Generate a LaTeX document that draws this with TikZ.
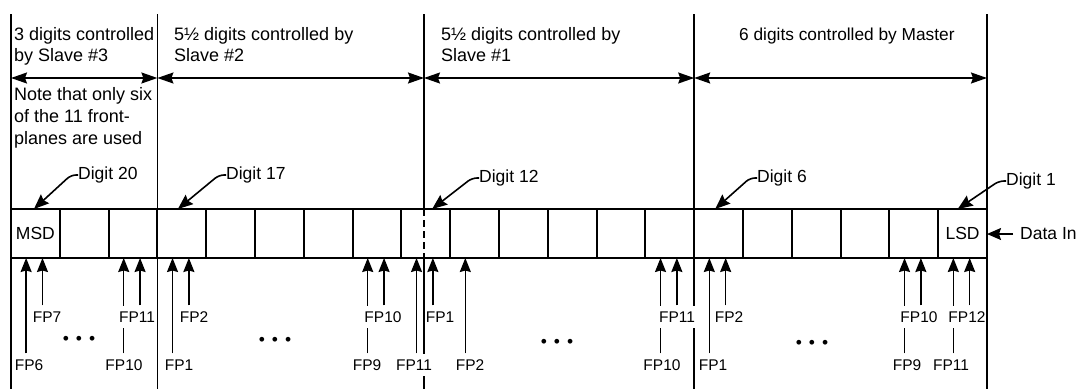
\documentclass[tikz,border=0pt]{standalone}
\usepackage{fontspec}
\setmainfont{Liberation Sans}
\usetikzlibrary{arrows.meta,calc,backgrounds}
\begin{document}
\begin{tikzpicture}[x=1pt,y=-1pt,
  cell/.style={draw,line width=2pt,minimum width=48.8pt,minimum height=49pt,inner sep=0pt,outer sep=0pt,font=\fontsize{17.5}{21}\selectfont},
  divider/.style={line width=1.5pt},
  dim/.style={line width=1.6pt,arrows={Stealth[length=16pt,width=11pt,inset=2pt]-Stealth[length=16pt,width=11pt,inset=2pt]}},
  hdr/.style={anchor=north west,inner sep=0pt,align=left,font=\fontsize{18}{21.5}\selectfont},
  dlab/.style={anchor=west,inner sep=0pt,font=\fontsize{17.5}{21}\selectfont},
  leader/.style={line width=1.6pt,rounded corners=5pt,arrows={-Stealth[length=15pt,width=12pt,inset=2pt]}},
  fplab/.style={fill=white,inner xsep=0pt,inner ysep=6pt,font=\fontsize{15.5}{18}\selectfont},
  fparrow/.style={line width=1.5pt,arrows={-Stealth[length=14pt,width=11pt,inset=1.5pt]}},
  dotsty/.style={inner sep=0pt,font=\fontsize{17.5}{21}\selectfont}
]
\useasboundingbox (0,0) rectangle (1079,389);

% digit cells
\node[cell] (b1) at ({11+48.8*0.5},233.5) {MSD};
\foreach \i in {2,...,19} \node[cell] (b\i) at ({11+48.8*(\i-0.5)},233.5) {};
\node[cell] (b20) at ({11+48.8*19.5},233.5) {LSD};

% reference levels
\coordinate (top) at (0,14);
\coordinate (bot) at (0,389);
\coordinate (arr) at (0,78);
\coordinate (v1) at (b1.west);
\coordinate (v2) at (b3.east);
\coordinate (v3) at (424,233.5);
\coordinate (v4) at (b14.east);
\coordinate (v5) at (b20.east);

% dividers
\foreach \v in {v1,v2,v4,v5} \draw[divider] (\v |- top) -- (\v |- bot);
\draw[divider] (v3 |- top) -- (v3 |- b9.north);
\draw[divider,dash pattern=on 7pt off 4pt] (v3 |- b9.north) -- (v3 |- b9.south);
\draw[divider] (v3 |- b9.south) -- (v3 |- bot);

% dimension arrows
\draw[dim] (v1 |- arr) -- (v2 |- arr);
\draw[dim] (v2 |- arr) -- (v3 |- arr);
\draw[dim] (v3 |- arr) -- (v4 |- arr);
\draw[dim] (v4 |- arr) -- (v5 |- arr);

% headers
\node[hdr] (h3) at (14,27) {3 digits controlled\\by Slave \#3};
\node[hdr] (h2) at (174,27) {5½ digits controlled by\\Slave \#2};
\node[hdr] (h1) at (441,27) {5½ digits controlled by\\Slave \#1};
\node[hdr,font=\fontsize{17.3}{21.5}\selectfont] (hm) at (739,28) {6 digits controlled by Master};
\node[hdr,font=\fontsize{18}{22}\selectfont] (note) at (14,87) {Note that only six\\of the 11 front-\\planes are used};

% digit labels and leaders
\node[dlab] (d20) at (78,175) {Digit 20};
\node[dlab] (d17) at (226,175) {Digit 17};
\node[dlab] (d12) at (479,178) {Digit 12};
\node[dlab] (d6) at (757,178) {Digit 6};
\node[dlab] (d1) at (1006,181) {Digit 1};
\draw[leader] (d20.west) -- ++(-7,0) -- ($(b1.north west)!0.47!(b1.north east)$);
\draw[leader] (d17.west) -- ++(-7,0) -- ($(b4.north west)!0.42!(b4.north east)$);
\draw[leader] (d12.west) -- ++(-7,0) -- ($(b9.north west)!0.63!(b9.north east)$);
\draw[leader] (d6.west) -- ++(-7,0) -- ($(b15.north west)!0.43!(b15.north east)$);
\draw[leader] (d1.west) -- ++(-7,0) -- ($(b20.north west)!0.4!(b20.north east)$);

% data in
\node[dlab] (din) at (1020,234) {Data In};
\draw[line width=1.6pt,arrows={-Stealth[length=14pt,width=12pt,inset=2pt]},shorten <=7pt] (din.west) -- (din.west -| b20.east);

% front-plane lines
\foreach \c/\f/\t/\x/\y/\n in {
 1/0.31/FP6/29/365/a, 1/0.645/FP7/47/317/b,
 3/0.31/FP10/124/365/c, 3/0.645/FP11/137/317/d,
 4/0.31/FP1/179/365/e, 4/0.645/FP2/194/317/f,
 8/0.31/FP9/367/365/g, 8/0.645/FP10/383/317/h,
 9/0.31/FP11/414/365/i, 9/0.645/FP1/440/317/j,
 10/0.31/FP2/470/365/k,
 14/0.31/FP10/662/365/l, 14/0.645/FP11/677/317/m,
 15/0.31/FP1/713/365/n, 15/0.645/FP2/729/317/o,
 19/0.31/FP9/907/365/p, 19/0.645/FP10/919/317/q,
 20/0.31/FP11/951/365/r, 20/0.645/FP12/967/317/s}
{
 \coordinate (fp\n) at ($(b\c.south west)!\f!(b\c.south east)$);
 \node[fplab] (lab\n) at (\x,\y) {\t};
 \begin{scope}[on background layer]
  \draw[fparrow] (lab\n.north -| fp\n) -- (fp\n);
 \end{scope}
}

% ellipses
\node[dotsty] (dt1) at (79,340) {•\hspace{7pt}•\hspace{7pt}•};
\node[dotsty] (dt2) at (275,341) {•\hspace{7pt}•\hspace{7pt}•};
\node[dotsty] (dt3) at (557,343) {•\hspace{7pt}•\hspace{7pt}•};
\node[dotsty] (dt4) at (812,344) {•\hspace{7pt}•\hspace{7pt}•};
\end{tikzpicture}
\end{document}
